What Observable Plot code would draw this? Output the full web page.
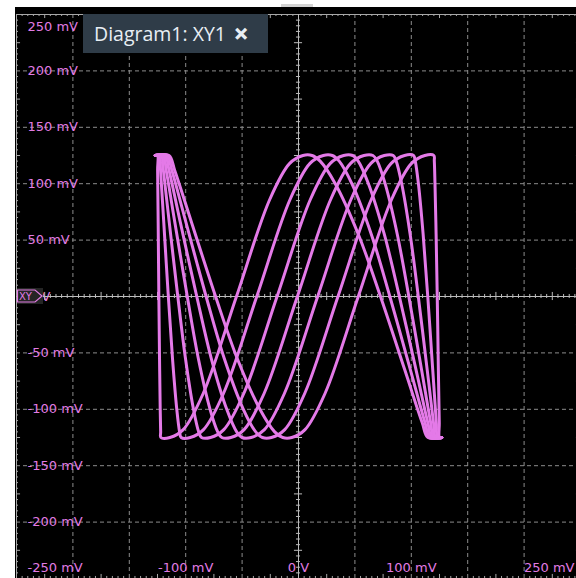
<!DOCTYPE html>
<html><head><meta charset="utf-8">
<script src="https://cdn.jsdelivr.net/npm/d3@7"></script>
<script src="https://cdn.jsdelivr.net/npm/@observablehq/plot@0.6"></script>
<style>
html,body{margin:0;padding:0;background:#fff;width:576px;height:578px;overflow:hidden;position:relative;}
#scope{position:absolute;left:15px;top:7px;width:565px;height:571px;background:#000;}
#notch{position:absolute;left:281px;top:4px;width:32px;height:3px;background:#d4d4d4;}
#title{position:absolute;left:83px;top:14px;width:185px;height:39px;background:#2f3c48;color:#e8eef4;
  font-family:"Open Sans","Noto Sans",sans-serif;font-size:19.5px;line-height:39px;padding-left:11px;box-sizing:border-box;white-space:nowrap;}
#title .x{font-family:"DejaVu Sans",sans-serif;font-size:17px;margin-left:8px;-webkit-text-stroke:1.4px #e8eef4;position:relative;top:-1px;}
</style>
</head><body>
<div id="notch"></div>
<div id="scope"></div>
<div id="title">Diagram1: XY1<span class="x">✕</span></div>
<script>
// y values shared by every trace (mV)
const traceY = [125,125,112,65,0,-55,-100,-120,-125,-125,-118,-86,0,86,118,125,125,120,100,55,0,-65,-112,-125,-125];
// x values of each persistence trace (mV)
const trace0X = [-127,-125,-124.9,-124.4,-123.8,-123.2,-122.6,-122.2,-122,-114,-102.2,-84.5,-55,-25.5,-7.8,4,12,19.2,32.6,53.1,72.7,94.2,109.7,114.8,127];
const trace1X = [-127,-123.3,-122.3,-119.4,-115.4,-111.7,-107.9,-105.4,-104,-96,-84.2,-66.5,-37,-7.5,10.2,22,30,36.1,47.3,64.6,81,99.2,112.2,116.5,127];
const trace2X = [-127,-121.6,-119.8,-114.5,-107,-100.2,-93.1,-88.5,-86,-78,-66.2,-48.5,-19,10.5,28.2,40,48,52.9,62,76.1,89.4,104.2,114.7,118.2,127];
const trace3X = [-127,-119.9,-117.3,-109.5,-98.6,-88.8,-78.4,-71.6,-68,-60,-48.2,-30.5,-1,28.5,46.2,58,66,69.8,76.8,87.6,97.8,109.1,117.2,119.9,127];
const trace4X = [-127,-118.2,-114.8,-104.6,-90.2,-77.3,-63.6,-54.8,-50,-42,-30.2,-12.5,17,46.5,64.2,76,84,86.6,91.5,99,106.2,114.1,119.7,121.6,127];
const trace5X = [-127,-116.5,-112.3,-99.6,-81.9,-65.8,-48.9,-37.9,-32,-24,-12.2,5.5,35,64.5,82.2,94,102,103.5,106.3,110.5,114.6,119,122.2,123.3,127];
const trace6X = [-127,-114.8,-109.8,-94.6,-73.5,-54.3,-34.2,-21.1,-14,-6,5.8,23.5,53,82.5,100.2,112,120,120.4,121,122,123,124,124.8,125,127];

const yLabelVals = [250,200,150,100,50,0,-50,-100,-150,-200,-250];
const yLabelText = ["250 mV","200 mV","150 mV","100 mV","50 mV","V","-50 mV","-100 mV","-150 mV","-200 mV","-250 mV"];
const xLabelVals = [-100,0,100,250];
const xLabelText = ["-100 mV","0 V","100 mV","250 mV"];
const gridVals = [-200,-150,-100,-50,50,100,150,200];

const traceColor = "#e47ae8";
const labelColor = "#e27ce4";
const traces = [trace0X,trace1X,trace2X,trace3X,trace4X,trace5X,trace6X];
const data = traces.flatMap((xs,k) => xs.map((x,i) => ({trace:k, x, y:traceY[i]})));

const minor = d3.range(-250,250.1,5).filter(v => v % 25 !== 0);
const half = d3.range(-250,250.1,25).filter(v => v % 50 !== 0);
const tMin = 1.8, tHalf = 3.6;

const yl = yLabelVals.map((v,i) => ({v, t:yLabelText[i]}));
const xl = xLabelVals.map((v,i) => ({v, t:xLabelText[i]}));
const font = {fill:labelColor};
const gridCol = "#8c8c8c", axisCol = "#bcbcbc", frameCol = "#a8a8a8";

const svg = Plot.plot({
  width:565, height:571, marginLeft:1, marginTop:7, marginRight:0, marginBottom:0,
  x:{domain:[-250,250], axis:null}, y:{domain:[-250,250], axis:null},
  style:{background:"black", fontFamily:"DejaVu Sans", fontSize:"13px"},
  marks:[
    Plot.ruleX(gridVals, {x:d=>d, stroke:gridCol, strokeDasharray:"4,3"}),
    Plot.ruleY(gridVals, {y:d=>d, stroke:gridCol, strokeDasharray:"4,3"}),
    // frame
    Plot.ruleX([-250], {stroke:frameCol}),
    Plot.ruleY([250], {stroke:frameCol}),
    Plot.ruleX(minor, {x:d=>d, y1:250, y2:250-tMin, stroke:frameCol}),
    Plot.ruleX(half, {x:d=>d, y1:250, y2:250-tHalf, stroke:frameCol}),
    Plot.ruleX(minor, {x:d=>d, y1:-250, y2:-250+tMin, stroke:frameCol}),
    Plot.ruleX(half, {x:d=>d, y1:-250, y2:-250+tHalf, stroke:frameCol}),
    Plot.ruleY(minor, {y:d=>d, x1:-250, x2:-250+tMin, stroke:frameCol}),
    Plot.ruleY(half, {y:d=>d, x1:-250, x2:-250+tHalf, stroke:frameCol}),
    Plot.ruleY(minor, {y:d=>d, x1:250, x2:250-tMin, stroke:frameCol}),
    Plot.ruleY(half, {y:d=>d, x1:250, x2:250-tHalf, stroke:frameCol}),
    // labels
    Plot.text(yl.filter((d,i) => i > 0 && i < 10 && i !== 5), {x:-250, y:"v", text:"t", textAnchor:"start", dx:11, ...font, ariaLabel:"lab"}),
    Plot.text(yl.slice(0,1), {x:-250, y:"v", text:"t", textAnchor:"start", dx:11, dy:12, ...font, ariaLabel:"lab"}),
    Plot.text(yl.slice(10), {x:-250, y:"v", text:"t", textAnchor:"start", dx:11, dy:-11, ...font, ariaLabel:"lab"}),
    Plot.text(yl.slice(5,6), {x:-250, y:"v", text:"t", textAnchor:"start", dx:25, ...font, ariaLabel:"lab"}),
    Plot.text(xl.slice(0,3), {x:"v", y:-250, text:"t", textAnchor:"middle", dy:-11, ...font, ariaLabel:"lab"}),
    Plot.text(xl.slice(3), {x:"v", y:-250, text:"t", textAnchor:"end", dx:-6, dy:-11, ...font, ariaLabel:"lab"}),
    // center axes
    Plot.ruleX([0], {stroke:axisCol}),
    Plot.ruleY([0], {stroke:axisCol}),
    Plot.ruleX(minor, {x:d=>d, y1:-tMin, y2:tMin, stroke:axisCol}),
    Plot.ruleX(half, {x:d=>d, y1:-tHalf, y2:tHalf, stroke:axisCol}),
    Plot.ruleY(minor, {y:d=>d, x1:-tMin, x2:tMin, stroke:axisCol}),
    Plot.ruleY(half, {y:d=>d, x1:-tHalf, x2:tHalf, stroke:axisCol}),
    // traces
    Plot.line(data, {x:"x", y:"y", z:"trace", stroke:traceColor, strokeWidth:3, curve:"catmull-rom", strokeLinejoin:"round"})
  ]
});
document.getElementById("scope").appendChild(svg);

const NS = "http://www.w3.org/2000/svg";
svg.querySelectorAll('g[aria-label="lab"] text').forEach(t => {
  t.setAttribute("font-family", "DejaVu Sans");
  t.setAttribute("font-size", "13");
  const b = t.getBBox();
  const r = document.createElementNS(NS, "rect");
  r.setAttribute("x", b.x - 5); r.setAttribute("y", b.y - 1);
  r.setAttribute("width", b.width + 8); r.setAttribute("height", b.height + 2);
  r.setAttribute("fill", "#252525");
  const tr = t.getAttribute("transform"); if (tr) r.setAttribute("transform", tr);
  t.parentNode.insertBefore(r, t);
});

// channel marker at y = 0
const sx = v => 1 + (v + 250) / 500 * 564, sy = v => 7 + (250 - v) / 500 * 564;
const mx = sx(-250), my = sy(0);
const g = document.createElementNS(NS, "g");
const bg = document.createElementNS(NS, "rect");
bg.setAttribute("x", mx+1); bg.setAttribute("y", my-8); bg.setAttribute("width", 26); bg.setAttribute("height", 16);
bg.setAttribute("fill", "#252525");
g.appendChild(bg);
const p = document.createElementNS(NS, "path");
p.setAttribute("d", `M${mx+1.5},${my-6}H${mx+19}L${mx+26},${my}L${mx+19},${my+6}H${mx+1.5}Z`);
p.setAttribute("fill", "none"); p.setAttribute("stroke", labelColor); p.setAttribute("stroke-width", 1.2);
g.appendChild(p);
const tx = document.createElementNS(NS, "text");
tx.setAttribute("x", mx+3); tx.setAttribute("y", my+4);
tx.setAttribute("text-anchor", "start");
tx.setAttribute("fill", labelColor); tx.setAttribute("font-family", "DejaVu Sans"); tx.setAttribute("font-size", 10);
tx.textContent = "XY";
g.appendChild(tx);
svg.appendChild(g);
</script>
</body></html>
